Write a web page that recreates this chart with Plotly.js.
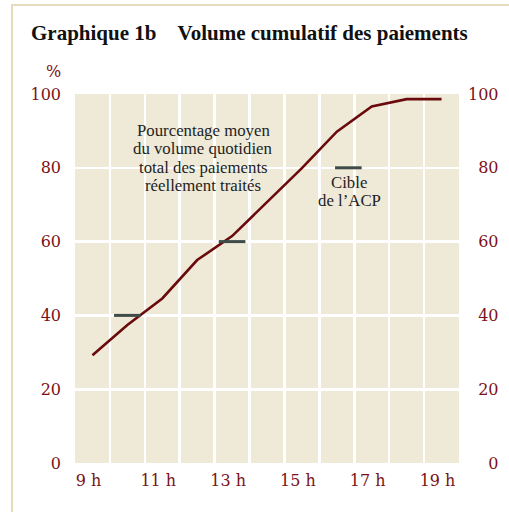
<!DOCTYPE html>
<html>
<head>
<meta charset="utf-8">
<script src="https://cdn.plot.ly/plotly-3.0.1.min.js"></script>
<style>
  html, body { margin: 0; padding: 0; background: #ffffff; }
  #wrap { position: relative; width: 509px; height: 512px; overflow: hidden; }
  #chart { position: absolute; left: 0; top: 0; width: 509px; height: 512px; }
  #frame { position: absolute; left: 11px; top: 4px; width: 700px; height: 700px;
           border-left: 2px solid #e6dcbb; border-top: 2px solid #e6dcbb;
           pointer-events: none; z-index: 5; }
</style>
</head>
<body>
<div id="wrap">
  <div id="chart"></div>
  <div id="frame"></div>
</div>
<script>
// Hours of the day (x) and average cumulative share of daily payment volume processed (%)
const hours = [9, 10, 11, 12, 13, 14, 15, 16, 17, 18, 19];
const cumulativePct = [29.2, 37.4, 44.6, 55, 61.5, 70.6, 79.9, 89.8, 96.6, 98.6, 98.6];

// APC (ACP) targets
const targetHours = [10, 13, 16.33];
const targetPct = [40, 60, 80];

// Axis labels
const yTickVals = [0, 20, 40, 60, 80, 100];
const yTickTextRight = ['\u2007\u20070', '\u200720', '\u200740', '\u200760', '\u200780', '100'];

const titleText = 'Graphique 1b\u00a0\u00a0\u00a0\u00a0Volume cumulatif des paiements';
const noteLines = ['Pourcentage moyen', 'du volume quotidien', 'total des paiements', 'réellement traités'];
const targetLines = ['Cible', 'de l\u2019ACP'];

const red = '#7a1218';
const serif = 'DejaVu Serif, serif';
const textSerif = 'Liberation Serif, serif';

// plot-area geometry (pixels) used to place text blocks
const PL = 75, PW = 384, PB = 463, PH = 369;
const px = v => (v - PL) / PW;
const py = v => (PB - v) / PH;
const lineGap = 18.3;

function textBlock(lines, cx, firstY) {
  return lines.map((t, i) => ({
    text: t, xref: 'paper', yref: 'paper',
    x: px(cx), y: py(firstY + i * lineGap),
    xanchor: 'center', yanchor: 'middle', showarrow: false,
    font: { family: textSerif, size: 16.8, color: '#1e1e1e' }
  }));
}

const traces = [
  {
    x: hours, y: cumulativePct, type: 'scatter', mode: 'lines',
    line: { color: '#6b0a0c', width: 2.6 },
    hoverinfo: 'skip', xaxis: 'x', yaxis: 'y'
  },
  {
    x: targetHours, y: targetPct, type: 'scatter', mode: 'markers',
    marker: { symbol: 'line-ew', size: 19, color: '#3e4b49', line: { color: '#3e4b49', width: 3 } },
    hoverinfo: 'skip', xaxis: 'x', yaxis: 'y2'
  }
];

const layout = {
  width: 509, height: 512,
  margin: { l: 75, r: 50, t: 94, b: 49 },
  paper_bgcolor: 'rgba(0,0,0,0)',
  plot_bgcolor: '#efe9d7',
  showlegend: false,
  title: {
    text: titleText,
    font: { family: 'Liberation Serif, serif', size: 21, color: '#111111', weight: 'bold' },
    xref: 'container', yref: 'container',
    x: 31 / 509, xanchor: 'left',
    y: 1 - 33 / 512, yanchor: 'middle'
  },
  xaxis: {
    range: [8.5, 19.5],
    tickmode: 'linear', tick0: 9, dtick: 2,
    ticksuffix: ' h',
    showgrid: false, zeroline: false, showline: false, ticks: '',
    tickfont: { family: serif, size: 16, color: red },
    ticklabelstandoff: 6,
    ticklabelshift: -4,
    minor: { tick0: 0.5, dtick: 1, showgrid: true, gridcolor: '#ffffff', gridwidth: 2.6, ticks: '' },
    fixedrange: true
  },
  yaxis: {
    range: [0, 100],
    tickvals: yTickVals,
    showgrid: true, gridcolor: '#ffffff', gridwidth: 2.6,
    zeroline: false, showline: false, ticks: '',
    tickfont: { family: serif, size: 16, color: red },
    ticklabelstandoff: 13,
    fixedrange: true
  },
  yaxis2: {
    overlaying: 'y', side: 'right', matches: 'y',
    range: [0, 100],
    tickvals: yTickVals, ticktext: yTickTextRight,
    showgrid: false, zeroline: false, showline: false, ticks: '',
    tickfont: { family: serif, size: 16, color: red },
    ticklabelstandoff: 8,
    fixedrange: true
  },
  annotations: [
    {
      text: '%', xref: 'paper', yref: 'paper',
      x: px(53), y: py(72),
      xanchor: 'center', yanchor: 'middle', showarrow: false,
      font: { family: serif, size: 16, color: red }
    },
    ...textBlock(noteLines, 203, 130.5),
    ...textBlock(targetLines, 349.3, 182)
  ]
};

Plotly.newPlot('chart', traces, layout, { displayModeBar: false, staticPlot: true });
</script>
</body>
</html>
